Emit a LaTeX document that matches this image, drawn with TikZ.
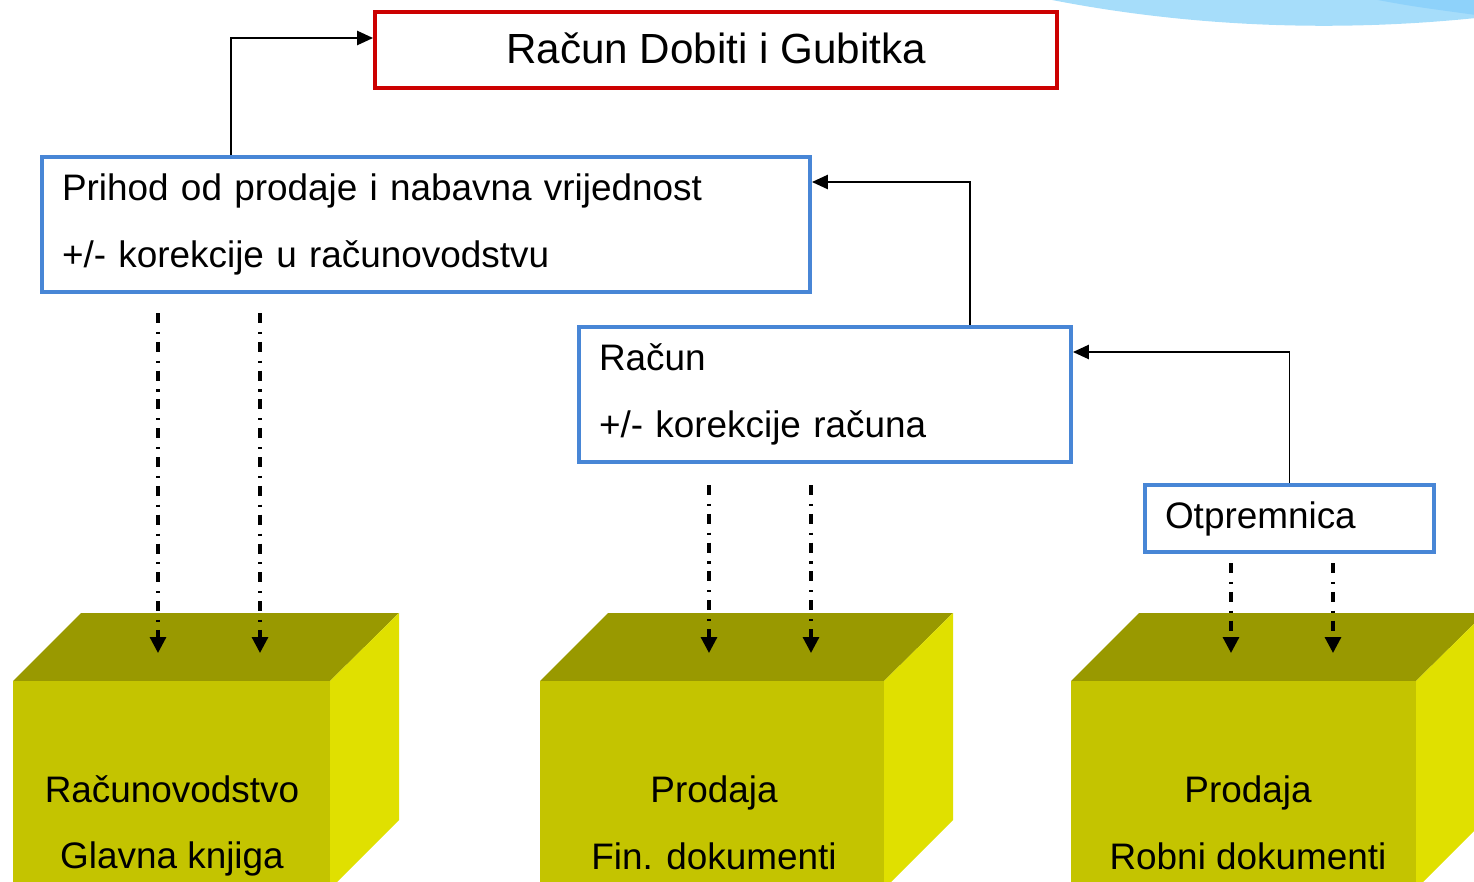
\documentclass[tikz,border=0pt]{standalone}
\usepackage{fontspec}
\setmainfont{Liberation Sans}
\usetikzlibrary{positioning,arrows.meta,calc}
\definecolor{racred}{RGB}{204,0,0}
\definecolor{racblue}{RGB}{72,134,214}
\definecolor{olivetop}{RGB}{153,153,0}
\definecolor{olivefront}{RGB}{196,196,0}
\definecolor{oliveside}{RGB}{224,224,0}
\definecolor{sky}{RGB}{166,221,250}
\definecolor{skydark}{RGB}{142,210,250}

\begin{document}
\begin{tikzpicture}[x=0.02cm,y=-0.02cm,
    txt/.style={font=\fontsize{21}{38}\selectfont},
    bluebox/.style={draw=racblue,line width=2.3pt,txt,align=left,inner xsep=0.4cm,inner ysep=0pt},
    redbox/.style={draw=racred,line width=2.3pt,font=\fontsize{24}{29}\selectfont,align=center,text depth=2.5pt},
    link/.style={-{Triangle[length=9pt,width=8pt]},line width=1.1pt},
    dd/.style={-{Triangle[length=9pt,width=9pt]},line width=1.8pt,dash pattern=on 5.7pt off 5pt on 1.2pt off 4.5pt}]
    \useasboundingbox (0,0) rectangle (1474,882);
    \clip (0,0) rectangle (1474,882);
    \fill[sky] (1042,-2) .. controls (1150,20) and (1300,36) .. (1476,18) -- (1476,-2) -- cycle;
    \fill[skydark] (1367,-2) .. controls (1410,6) .. (1476,15) -- (1476,-2) -- cycle;
    \foreach \l/\r/\cx/\cy/\nm/\lab in {13/330/172/826/knj/{Računovodstvo\\Glavna knjiga},540/884/714/823/fin/{Prodaja\\Fin. dokumenti},1071/1416/1248/823/robni/{Prodaja\\Robni dokumenti}}{
      \fill[olivetop] (\l,681) -- (\l+68,613) -- (\r+69,613) -- (\r,681) -- cycle;
      \fill[oliveside] (\r,681) -- (\r+69,613) -- (\r+69,820) -- (\r,889) -- cycle;
      \fill[olivefront] (\l,681) rectangle (\r,900);
      \node[txt,align=center] (\nm) at (\cx,\cy) {\lab};
    }
    \node[redbox,minimum width=13.64cm,minimum height=1.52cm] (rdg) at (716,50) {Račun Dobiti i Gubitka};
    \node[bluebox,minimum width=15.36cm,minimum height=2.7cm,text width=14.56cm] (prihod) at (426,224.5) {Prihod od prodaje i nabavna vrijednost\\+/- korekcije u računovodstvu};
    \node[bluebox,minimum width=9.84cm,minimum height=2.7cm,text width=9.04cm] (racun) at (825,394.5) {Račun\\+/- korekcije računa};
    \node[bluebox,minimum width=5.78cm,minimum height=1.34cm,text width=4.98cm] (otpr) at (1289.5,518.5) {Otpremnica};
    \draw[link] ([xshift=-3.9cm]prihod.north) |- ([yshift=0.24cm]rdg.west);
    \draw[link] ([xshift=2.9cm]racun.north) |- ([yshift=0.85cm]prihod.east);
    \draw[link] (otpr.north) |- ([yshift=0.85cm]racun.east);
    \foreach \c/\x in {k1/158,k2/260,f1/709,f2/811,r1/1231,r2/1333}
      \coordinate (\c) at (\x,653);
    \foreach \b/\c/\g in {prihod/k1/19,prihod/k2/19,racun/f1/21,racun/f2/21,otpr/r1/9,otpr/r2/9}
      \draw[dd] ($(\b.south -| \c)+(0,\g)$) -- (\c);
\end{tikzpicture}
\end{document}
